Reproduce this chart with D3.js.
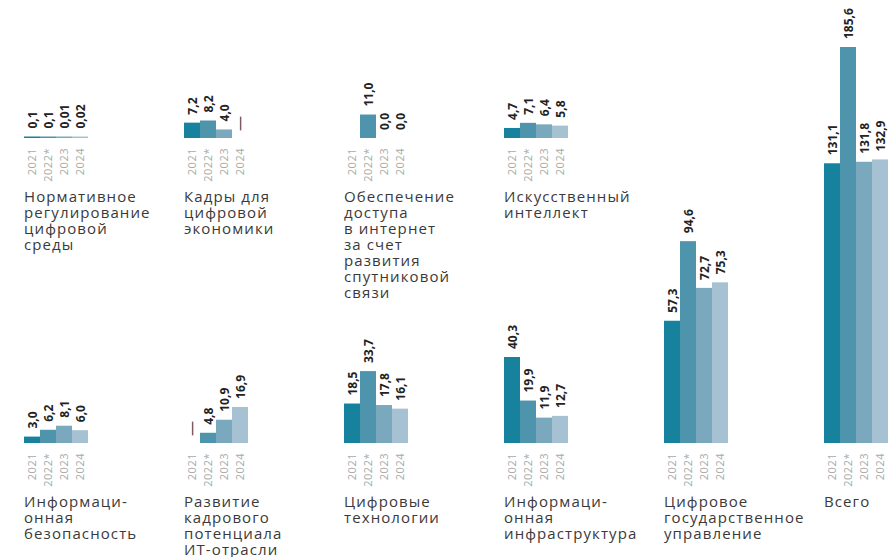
<!DOCTYPE html>
<html>
<head>
<meta charset="utf-8">
<script src="https://cdn.jsdelivr.net/npm/d3@7"></script>
<style>
  body { margin: 0; background: #fff; }
  .title { font-family: "Open Sans", sans-serif; font-size: 15px; fill: #3a3a3a; letter-spacing: 1.1px; }
  .year { font-family: "Open Sans", sans-serif; font-size: 11px; fill: #a9a9a9; letter-spacing: 0.5px; }
  .value { font-family: "Open Sans", sans-serif; font-size: 12px; font-weight: 700; fill: #222; }
  .dash { font-family: "Open Sans", sans-serif; font-size: 15px; font-weight: 400; fill: #333; }
</style>
</head>
<body>
<div id="chart"></div>
<script>
// years shown under each group
var years = ["2021", "2022*", "2023", "2024"];
var yearColors = ["#17829e", "#4f94ad", "#7aa9be", "#a5c1d2"];

// top row: titles (lines) and values per year
// null = shown as a dash, undefined = nothing shown
var topTitles = [
  ["Нормативное", "регулирование", "цифровой", "среды"],
  ["Кадры для", "цифровой", "экономики"],
  ["Обеспечение", "доступа", "в интернет", "за счет", "развития", "спутниковой", "связи"],
  ["Искусственный", "интеллект"]
];
var topValues = [
  [0.1, 0.1, 0.01, 0.02],
  [7.2, 8.2, 4.0, null],
  [undefined, 11.0, 0.0, 0.0],
  [4.7, 7.1, 6.4, 5.8]
];

// bottom row
var bottomTitles = [
  ["Информаци-", "онная", "безопасность"],
  ["Развитие", "кадрового", "потенциала", "ИТ-отрасли"],
  ["Цифровые", "технологии"],
  ["Информаци-", "онная", "инфраструктура"],
  ["Цифровое", "государственное", "управление"],
  ["Всего"]
];
var bottomValues = [
  [3.0, 6.2, 8.1, 6.0],
  [null, 4.8, 10.9, 16.9],
  [18.5, 33.7, 17.8, 16.1],
  [40.3, 19.9, 11.9, 12.7],
  [57.3, 94.6, 72.7, 75.3],
  [131.1, 185.6, 131.8, 132.9]
];

// SVG area
var svgWidth = 896;
var svgHeight = 557;

// baselines of the two rows
var rows = [
  { baseline: 138, titles: topTitles, values: topValues },
  { baseline: 443, titles: bottomTitles, values: bottomValues }
];

var svg = d3
  .select("#chart")
  .append("svg")
  .attr("width", svgWidth)
  .attr("height", svgHeight);

// group position, bars inside a group, bar height
var xGroup = d3.scaleLinear().domain([0, 1]).range([24, 184]);
var xYear = d3.scaleBand().domain(years).range([0, 64]);
var yHeight = d3.scaleLinear().domain([0, 185.6]).range([0, 396]);

function formatValue(v) {
  var s = v > 0 && v < 0.1 ? d3.format(".2f")(v) : d3.format(".1f")(v);
  return s.replace(".", ",");
}

function barHeight(v) {
  if (v == null || v <= 0) return 0;
  return Math.max(yHeight(v), 1.5);
}

rows.forEach((row) => {
  row.values.forEach((vals, gi) => {
    var g = svg
      .append("g")
      .attr("transform", `translate(${xGroup(gi)}, 0)`);

    var cells = years.map((yr, i) => ({ year: yr, value: vals[i], color: yearColors[i] }));

    // bars
    g.selectAll("rect")
      .data(cells.filter((d) => d.value != null && d.value > 0))
      .enter()
      .append("rect")
      .attr("x", (d) => xYear(d.year))
      .attr("y", (d) => row.baseline - barHeight(d.value))
      .attr("width", xYear.bandwidth())
      .attr("height", (d) => barHeight(d.value))
      .attr("fill", (d) => d.color);

    // value labels
    g.selectAll("text.value")
      .data(cells.filter((d) => d.value != null))
      .enter()
      .append("text")
      .classed("value", true)
      .attr("transform", (d) => `translate(${xYear(d.year) + xYear.bandwidth() / 2}, ${row.baseline - barHeight(d.value) - 8}) rotate(-90)`)
      .attr("dy", "0.45em")
      .text((d) => formatValue(d.value));

    // dashes for missing values
    g.selectAll("text.dash")
      .data(cells.filter((d) => d.value === null))
      .enter()
      .append("text")
      .classed("dash", true)
      .attr("transform", (d) => `translate(${xYear(d.year) + xYear.bandwidth() / 2}, ${row.baseline - 7}) rotate(-90)`)
      .attr("dy", "0.3em")
      .text("—");

    // year labels
    g.selectAll("text.year")
      .data(cells)
      .enter()
      .append("text")
      .classed("year", true)
      .attr("transform", (d) => `translate(${xYear(d.year) + xYear.bandwidth() / 2}, ${row.baseline + 10}) rotate(-90)`)
      .attr("text-anchor", "end")
      .attr("dy", "0.36em")
      .text((d) => d.year);

    // group title
    var title = g
      .append("text")
      .classed("title", true)
      .attr("x", 0)
      .attr("y", row.baseline + 64);
    title
      .selectAll("tspan")
      .data(row.titles[gi])
      .enter()
      .append("tspan")
      .attr("x", 0)
      .attr("dy", (d, i) => (i === 0 ? 0 : 16))
      .text((d) => d);
  });
});
</script>
</body>
</html>
